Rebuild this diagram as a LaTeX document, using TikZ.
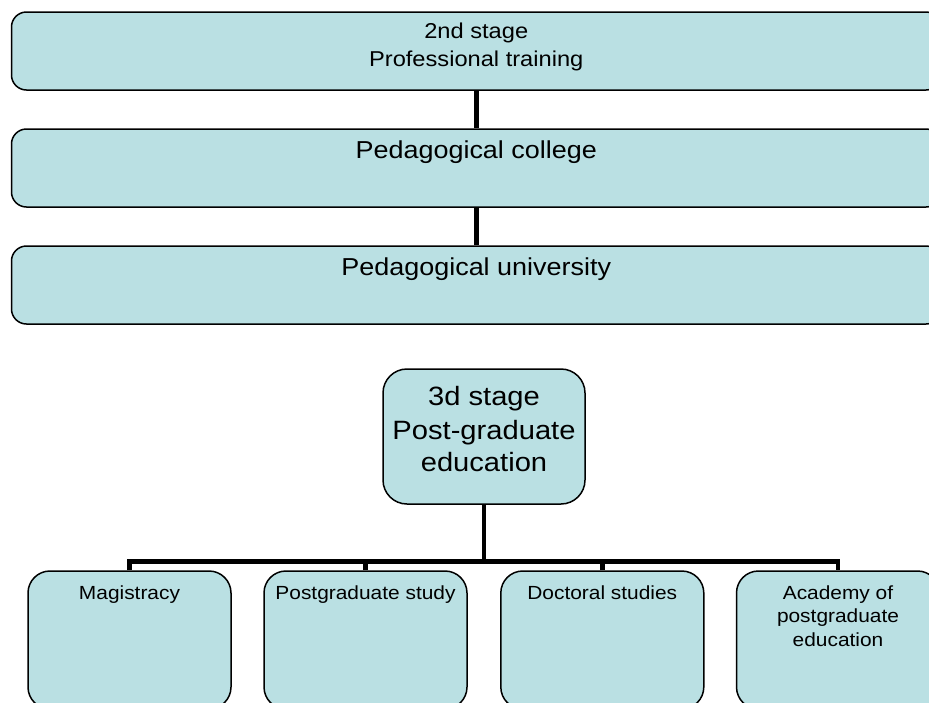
\documentclass[tikz,border=0pt]{standalone}
\usepackage{fontspec}
\setmainfont{Liberation Sans}[FakeStretch=1.1]
\definecolor{boxfill}{RGB}{186,224,227}
\begin{document}
\begin{tikzpicture}[x=1pt,y=-1pt,
  box/.style={draw=black, line width=1.5pt, fill=boxfill, inner sep=0pt, rectangle},
  wide/.style={box, rounded corners=15pt, minimum width=929.5pt, minimum height=78pt},
  mid/.style={box, rounded corners=24pt, minimum width=202pt, minimum height=135pt},
  low/.style={box, rounded corners=22pt, minimum width=203pt, minimum height=138pt},
  conn/.style={draw=black, line width=4.8pt, line join=miter},
  lbl/.style={anchor=base, inner sep=0pt, align=center}
]
\useasboundingbox (0,0) rectangle (929,702);
\clip (0,0) rectangle (929,702);
\fill[white] (0,0) rectangle (929,702);

\node[wide] (t1) at (476.25,51) {};
\node[wide] (t2) at (476.25,168) {};
\node[wide] (t3) at (476.25,285) {};
\node[mid] (ctr) at (484,436.5) {};
\node[low] (b1) at (129.5,640) {};
\node[low] (b2) at (365.5,640) {};
\node[low] (b3) at (602.3,640) {};
\node[low] (b4) at (838,640) {};

\coordinate (bar) at (0,561.5);

\draw[conn] (t1.south) -- (t2.north);
\draw[conn] (t2.south) -- (t3.north);
\draw[conn] (ctr.south) -- (ctr.south |- bar);
\draw[conn] (b1.north) |- (b4.north |- bar) -- (b4.north);
\draw[conn] (b2.north) -- (b2.north |- bar);
\draw[conn] (b3.north) -- (b3.north |- bar);

% texts
\node[lbl, font=\fontsize{21.5}{28}\selectfont] (t1a) at (476.25,38.3) {2nd stage};
\node[lbl, font=\fontsize{21.5}{28}\selectfont] (t1b) at (476.25,66.7) {Professional training};
\node[lbl, font=\fontsize{24.5}{30}\selectfont] (t2a) at (476.25,158.3) {Pedagogical college};
\node[lbl, font=\fontsize{24.5}{30}\selectfont] (t3a) at (476.25,275.7) {Pedagogical university};

\node[lbl, font=\fontsize{26.5}{33}\selectfont] (c1) at (484,405) {3d stage};
\node[lbl, font=\fontsize{26.5}{33}\selectfont] (c2) at (484,439) {Post-graduate};
\node[lbl, font=\fontsize{26.5}{33}\selectfont] (c3) at (484,471) {education};

\node[lbl, font=\fontsize{19}{23.5}\selectfont] (m1) at (129.5,599) {Magistracy};
\node[lbl, font=\fontsize{19}{23.5}\selectfont] (m2) at (365.5,599) {Postgraduate study};
\node[lbl, font=\fontsize{19}{23.5}\selectfont] (m3) at (602.3,599) {Doctoral studies};
\node[lbl, font=\fontsize{19}{23.5}\selectfont] (m4a) at (838,599) {Academy of};
\node[lbl, font=\fontsize{19}{23.5}\selectfont] (m4b) at (838,622.5) {postgraduate};
\node[lbl, font=\fontsize{19}{23.5}\selectfont] (m4c) at (838,646) {education};
\end{tikzpicture}
\end{document}
